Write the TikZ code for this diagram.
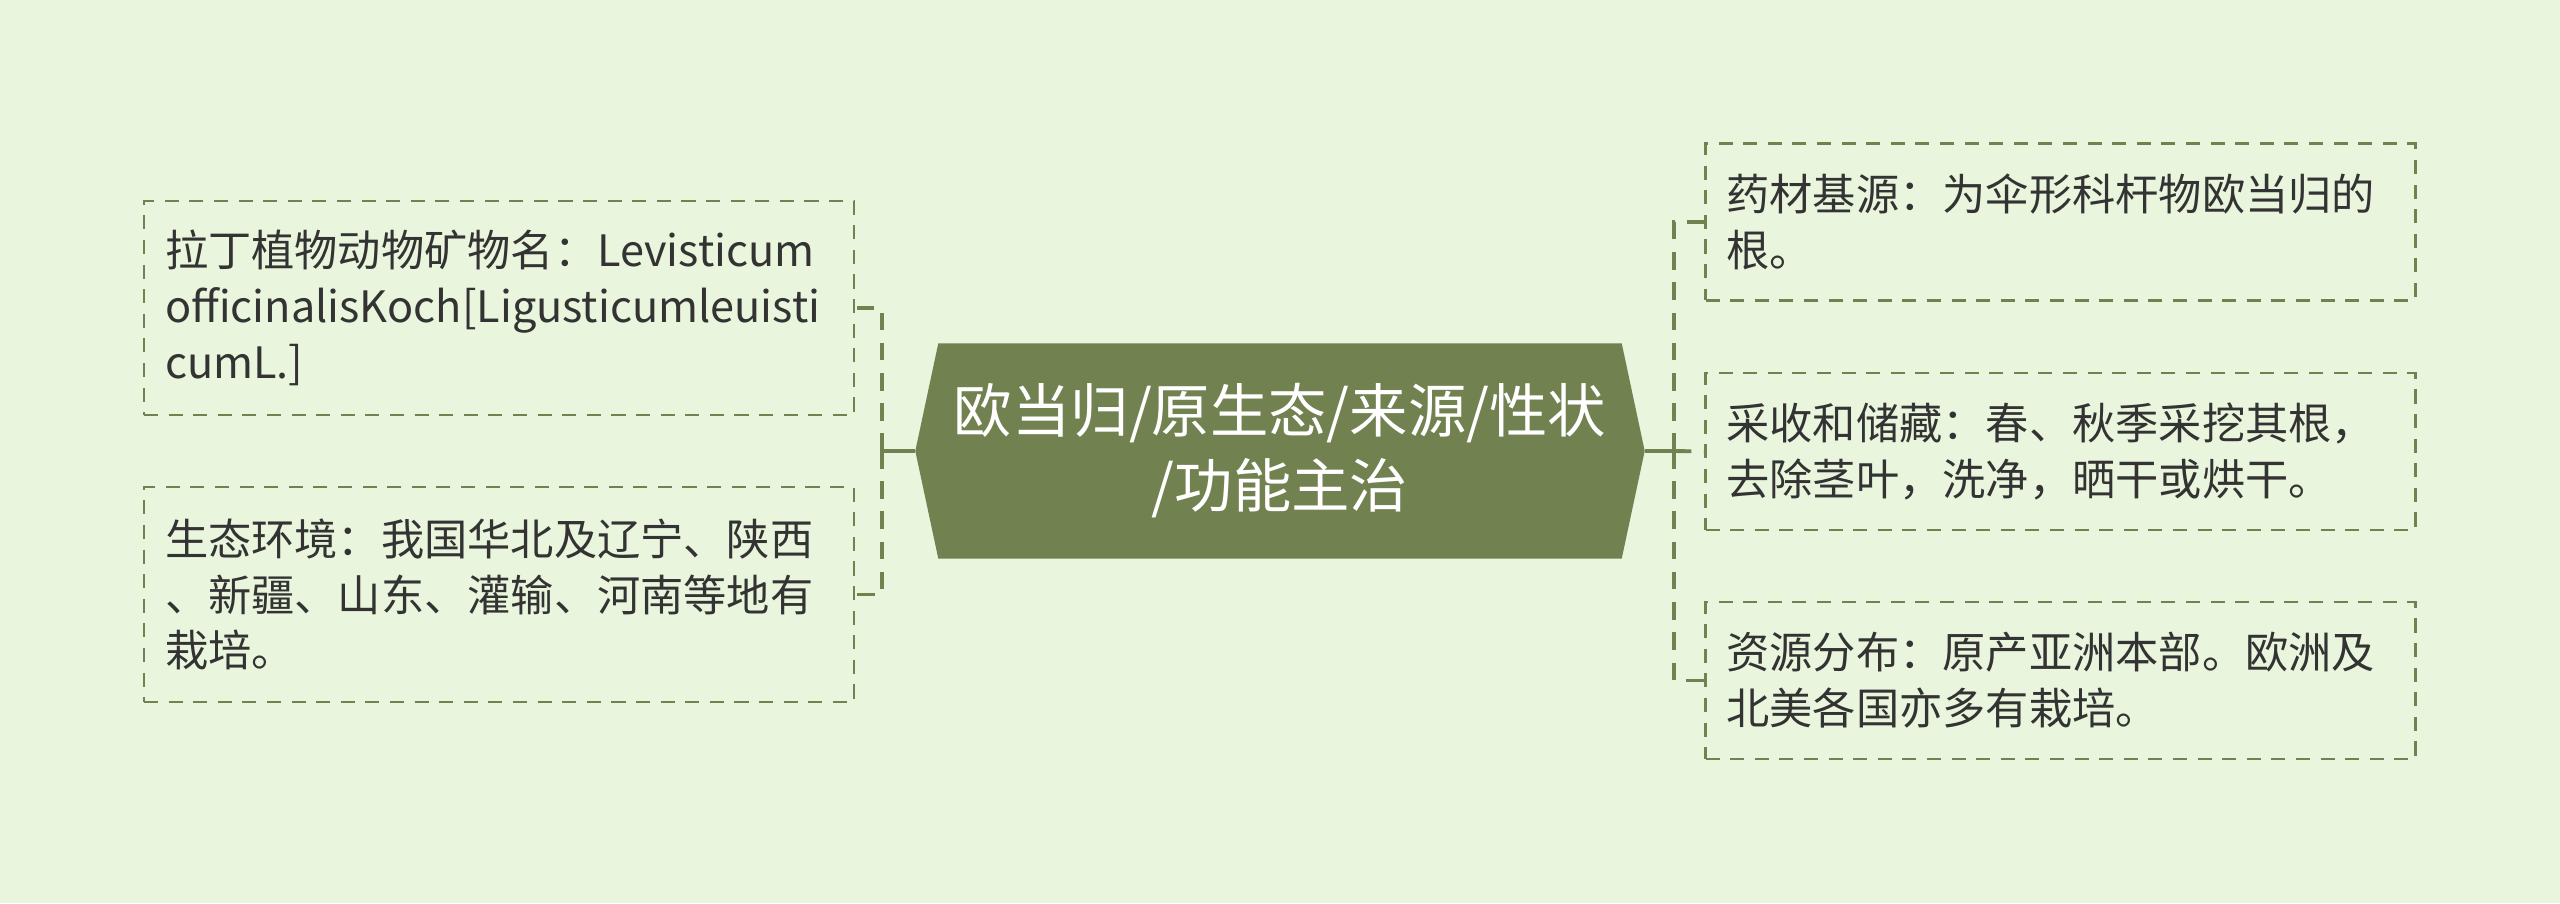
\documentclass[tikz,border=0pt]{standalone}
\usepackage{fontspec}
\newfontfamily\cjk{Noto Sans CJK SC}
\usetikzlibrary{calc,backgrounds}
\definecolor{bgcol}{HTML}{E9F5DC}
\definecolor{olive}{HTML}{728150}
\definecolor{ink}{HTML}{333333}
\begin{document}
\begin{tikzpicture}[
        leaf/.style={draw=olive, line width=0.6pt, dash pattern=on 4pt off 3pt,
            minimum width=7.1cm, minimum height=1.57cm, inner xsep=0.21cm,
            text width=6.68cm, align=left, text=ink,
            font=\cjk\fontsize{12.3}{15.9}\selectfont},
        link/.style={draw=olive, line width=1.1pt},
        linkdash/.style={link, dash pattern=on 5pt off 3.6pt}
    ]
    % centre
    \node[minimum width=7.28cm, minimum height=2.14cm, align=center, text=white,
        font=\cjk\fontsize{16.6}{21.3}\selectfont] (root) at (12.8,4.52)
        {欧当归/原生态/来源/性状\\/功能主治};
    \begin{pgfonlayer}{background}
        \fill[bgcol] (0,0) rectangle (25.6,9.03);
        \fill[olive] (root.west) -- ($(root.north west)+(0.23,0)$)
        -- ($(root.north east)+(-0.23,0)$) -- (root.east)
        -- ($(root.south east)+(-0.23,0)$) -- ($(root.south west)+(0.23,0)$) -- cycle;
    \end{pgfonlayer}

    % left side
    \node[leaf, minimum height=2.14cm] (latin) at (4.99,5.95)
        {拉丁植物动物矿物名：Levisticum\\officinalisKoch[Ligusticumleuisti\\cumL.]};
    \node[leaf, minimum height=2.15cm] (habitat) at (4.99,3.085)
        {生态环境：我国华北及辽宁、陕西\\、新疆、山东、灌输、河南等地有\\栽培。};

    % right side
    \node[leaf] (origin) at (20.605,6.81) {药材基源：为伞形科杆物欧当归的\\根。};
    \node[leaf] (harvest) at (20.605,4.515) {采收和储藏：春、秋季采挖其根，\\去除茎叶，洗净，晒干或烘干。};
    \node[leaf] (spread) at (20.605,2.225) {资源分布：原产亚洲本部。欧洲及\\北美各国亦多有栽培。};

    \coordinate (ljoin) at ($(root.west)+(-0.33,0)$);
    \coordinate (rjoin) at ($(root.east)+(0.29,0)$);
    \draw[link] (root.west) -- (ljoin);
    \draw[link] (root.east) -- (rjoin);
    \draw[linkdash] (ljoin) |- (latin.east);
    \draw[linkdash] (ljoin) |- (habitat.east);
    \draw[linkdash] (rjoin) |- (origin.west);
    \draw[linkdash] (rjoin) -- (harvest.west);
    \draw[linkdash] (rjoin) |- (spread.west);
\end{tikzpicture}
\end{document}
